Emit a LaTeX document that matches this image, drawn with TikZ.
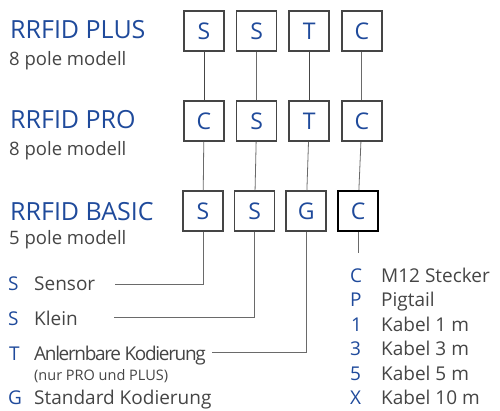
\documentclass[tikz,border=0pt]{standalone}
\usepackage{fontspec}
\setmainfont{Open Sans}
\newfontfamily\narrowfont[LetterSpace=-7]{Open Sans}
\usetikzlibrary{positioning}
\definecolor{rfblue}{HTML}{1F4A9B}
\definecolor{rfgray}{HTML}{454545}
\tikzstyle{codebox} = [rectangle, minimum width=40pt, minimum height=40pt, draw=rfgray, line width=1.6pt, fill=white, text=rfblue, font=\fontsize{23}{23}\selectfont, inner sep=0pt]
\tikzstyle{title} = [anchor=base west, text=rfblue, font=\fontsize{25}{25}\selectfont, inner sep=0pt]
\tikzstyle{subtitle} = [anchor=base west, text=rfgray, font=\fontsize{18.5}{18.5}\selectfont, inner sep=0pt]
\tikzstyle{key} = [anchor=base west, text=rfblue, font=\fontsize{19}{19}\selectfont, inner sep=0pt]
\tikzstyle{desc} = [anchor=base west, text=rfgray, font=\fontsize{19}{19}\selectfont, inner sep=0pt]
\tikzstyle{link} = [draw=rfgray!80, line width=0.8pt]
\tikzstyle{linkdark} = [draw=rfgray, line width=0.8pt]

\begin{document}
\begin{tikzpicture}[x=1pt, y=-1pt]
\useasboundingbox (0,0) rectangle (500,410);
% models
\node (plus) [title] at (10,38) {RRFID PLUS};
\node (plussub) [subtitle] at (9,65) {8 pole modell};
\node (pro) [title] at (10,128) {RRFID PRO};
\node (prosub) [subtitle] at (9,155) {8 pole modell};
\node (basic) [title] at (10,220) {RRFID BASIC};
\node (basicsub) [subtitle] at (9,244) {5 pole modell};
% code boxes
\node (a1) [codebox] at (204,31) {S};
\node (b1) [codebox, right=11pt of a1] {S};
\node (c1) [codebox, right=11pt of b1] {T};
\node (d1) [codebox, right=11pt of c1] {C};
\node (a2) [codebox] at (204,121) {C};
\node (b2) [codebox, right=11pt of a2] {S};
\node (c2) [codebox, right=11pt of b2] {T};
\node (d2) [codebox, right=11pt of c2] {C};
\node (a3) [codebox] at (203,211) {S};
\node (b3) [codebox, right=10pt of a3] {S};
\node (c3) [codebox, right=10pt of b3] {G};
\node (d3) [codebox, right=10pt of c3, draw=black, line width=2pt] {C};
\draw [linkdark] (a1) -- (a2);
\draw [link] (b1) -- (b2);
\draw [linkdark] (c1) -- (c2);
\draw [link] (d1) -- (d2);
\draw [link] (a2) -- (a3);
\draw [link] (b2) -- (b3);
\draw [link] (c2) -- (c3);
\draw [link] (d2) -- (d3);
% left legend
\node (kS) [key] at (8,290) {S};
\node (tS) [desc] at (34,290) {Sensor};
\node (kK) [key] at (8,325) {S};
\node (tK) [desc] at (34,325) {Klein};
\node (kT) [key] at (9,360) {T};
\node (tT) [desc] at (34,360) {\narrowfont Anlernbare Kodierung};
\node (tTsub) [desc, font=\fontsize{14.5}{14.5}\selectfont] at (34,380) {(nur PRO und PLUS)};
\node (kG) [key] at (8,404) {G};
\node (tG) [desc] at (34,404) {Standard Kodierung};
\coordinate (eS) at (115,284);
\coordinate (eK) at (114,317);
\coordinate (eT) at (212,352);
\coordinate (eC) at (0,253);
\draw [link] (a3) |- (eS);
\draw [link] (b3) |- (eK);
\draw [link] (c3) |- (eT);
\draw [link] (d3) -- (d3 |- eC);
% right legend
\node (k1) [key] at (350,282) {C};
\node (t1) [desc] at (381,282) {M12 Stecker};
\node (k2) [key] at (350,306.5) {P};
\node (t2) [desc] at (381,306.5) {Pigtail};
\node (k3) [key] at (351,331) {1};
\node (t3) [desc] at (381,331) {Kabel 1 m};
\node (k4) [key] at (350,355.5) {3};
\node (t4) [desc] at (381,355.5) {Kabel 3 m};
\node (k5) [key] at (350,380) {5};
\node (t5) [desc] at (381,380) {Kabel 5 m};
\node (k6) [key] at (350,404) {X};
\node (t6) [desc] at (381,404) {Kabel 10 m};
\end{tikzpicture}
\end{document}
